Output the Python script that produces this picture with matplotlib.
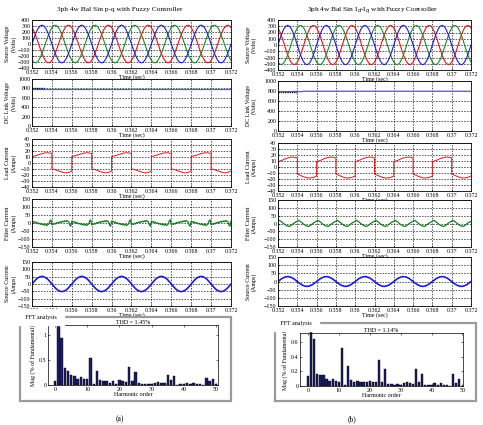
#!/usr/bin/env python3
"""Two-panel shunt filter results: time waveforms plus FFT of source current."""

import matplotlib
matplotlib.use("Agg")
import matplotlib.pyplot as plt
import numpy as np
from matplotlib.patches import Rectangle

plt.rcParams["font.family"] = ["Liberation Serif", "DejaVu Serif"]

W, H = 483, 425
T_START, T_END = 0.352, 0.372
PERIOD = 0.004
N_CYCLES = 5
TIME_TICKS = [0.352, 0.354, 0.356, 0.358, 0.36, 0.362, 0.364, 0.366, 0.368, 0.37, 0.372]

TITLES = ["3ph 4w Bal Sin p-q with Fuzzy Controller",
          r"3ph 4w Bal Sin I$_d$-I$_q$ with Fuzzy Controller"]
THD_TEXT = ["THD = 1.45%", "THD = 1.14%"]
CAPTIONS = ["(a)", "(b)"]

# one cycle of each phase (20 samples per cycle), same supply in both panels
VA_BLUE = [0, 97, 185, 255, 300, 315, 300, 255, 185, 97,
           0, -97, -185, -255, -300, -315, -300, -255, -185, -97]
VA_RED = [273, 211, 128, 33, -66, -158, -234, -288, -313, -308,
          -273, -211, -128, -33, 66, 158, 234, 288, 313, 308]
VA_GREEN = [-273, -308, -313, -288, -234, -158, -66, 33, 128, 211,
            273, 308, 313, 288, 234, 158, 66, -33, -128, -211]

# dc link voltage (time, volts)
DC_A_T = [0.352, 0.372]
DC_A_V = [795, 795]
DC_A_START_T = [0.352, 0.3533]
DC_A_START_V = [798, 798]
DC_B_T = [0.352, 0.3535, 0.354, 0.3543, 0.3546, 0.355, 0.372]
DC_B_V = [788, 788, 794, 784, 794, 795, 795]
DC_B_START_T = [0.352, 0.354]
DC_B_START_V = [790, 790]

# load current, one cycle (ms offsets within cycle, amps); jump at 2 ms and 4 ms
LOAD_OFFS = [0.0, 0.2, 0.4, 0.6, 0.8, 1.0, 1.2, 1.4, 1.6, 1.8, 2.0,
             2.0, 2.2, 2.4, 2.6, 2.8, 3.0, 3.2, 3.4, 3.6, 3.8, 4.0]
LOAD_A = [11, 11.5, 12.5, 13.5, 14.5, 15.5, 16.5, 17, 17, 16.5, 16,
          -10, -10.5, -11.5, -12.5, -14, -15, -16, -16.5, -16, -15, -13.5]
LOAD_B = [9, 10, 11, 12.5, 14, 15, 16, 16.5, 16.5, 16, 15,
          -12, -13, -14.5, -16, -17, -18, -18.5, -18, -17.5, -16.5, -15]

# filter current, one cycle (40 samples)
FILTER_A = [12, 5, 9, 2, 6, -3, 1, -6, -2, -9, -5, -12, -7, -14, -8, -16, -10, -6, 14, 20,
            -12, -5, -9, -2, -6, 3, -1, 6, 2, 9, 5, 12, 7, 14, 8, 16, 10, 6, -14, -20]
FILTER_B = [14, 20, 18, 14, 9, 4, -1, -6, -10, -14, -16, -18, -18, -15, -10, -5, 0, 4, 8, 11,
            14, 20, 18, 14, 9, 4, -1, -6, -10, -14, -16, -18, -18, -15, -10, -5, 0, 4, 8, 11]

# source current, one cycle (20 samples)
SRC_A = [0, 16, 31, 42, 49, 52, 49, 42, 31, 16,
         0, -16, -31, -42, -49, -52, -49, -42, -31, -16]
SRC_B = [0, 9, 18, 24, 28.5, 30, 28.5, 24, 18, 9,
         0, -9, -18, -24, -28.5, -30, -28.5, -24, -18, -9]

HARMONICS = list(range(51))
FFT_A = [0.08, 1.28, 0.95, 0.34, 0.28, 0.21, 0.19, 0.12, 0.16, 0.13,
         0.12, 0.54, 0.02, 0.28, 0.11, 0.09, 0.09, 0.04, 0.08, 0.03,
         0.11, 0.08, 0.07, 0.36, 0.09, 0.26, 0.04, 0.03, 0.02, 0.03,
         0.03, 0.04, 0.07, 0.05, 0.05, 0.21, 0.11, 0.18, 0.01, 0.02,
         0.02, 0.04, 0.02, 0.04, 0.03, 0.02, 0.0, 0.14, 0.09, 0.12, 0.02]
FFT_B = [0.14, 0.83, 0.64, 0.16, 0.15, 0.15, 0.10, 0.07, 0.10, 0.07,
         0.06, 0.51, 0.01, 0.27, 0.08, 0.06, 0.07, 0.05, 0.06, 0.06,
         0.07, 0.05, 0.05, 0.36, 0.05, 0.23, 0.03, 0.03, 0.01, 0.03,
         0.02, 0.04, 0.05, 0.04, 0.03, 0.23, 0.06, 0.16, 0.01, 0.01,
         0.01, 0.04, 0.01, 0.04, 0.02, 0.01, 0.0, 0.16, 0.04, 0.10, 0.0]

FS = 4.3


def px_axes(fig, x0, y0, x1, y1):
    return fig.add_axes([x0 / W, 1 - y1 / H, (x1 - x0) / W, (y1 - y0) / H])


def periodic(cycle_vals):
    vals = np.append(np.tile(np.asarray(cycle_vals, float), N_CYCLES), cycle_vals[0])
    t = T_START + np.arange(len(vals)) * PERIOD / len(cycle_vals)
    return t, vals


def periodic_knots(offs_ms, vals):
    t = np.concatenate([T_START + k * PERIOD + np.asarray(offs_ms) / 1000 for k in range(N_CYCLES)])
    return t, np.tile(np.asarray(vals, float), N_CYCLES)


def style_time_axes(ax, yticks, ylabel, label_x):
    ax.set_xlim(T_START, T_END)
    ax.set_xticks(TIME_TICKS)
    ax.set_xticklabels([f"{t:g}" for t in TIME_TICKS])
    ax.set_ylim(yticks[0], yticks[-1])
    ax.set_yticks(yticks)
    ax.grid(True, color="black", linestyle=(0, (2.5, 2)), linewidth=0.45)
    ax.tick_params(direction="in", length=1.5, width=0.4, labelsize=FS, pad=1.2)
    for s in ax.spines.values():
        s.set_linewidth(0.6)
    ax.set_xlabel("Time (sec)", fontsize=FS, labelpad=0)
    ax.set_ylabel(ylabel, fontsize=FS, linespacing=1.1)
    ax.yaxis.set_label_coords(label_x, 0.5)


fig = plt.figure(figsize=(W / 100, H / 100), dpi=100)

panels = [
    dict(x0=32, x1=231, rows=[(20, 68), (79, 126), (139, 187), (199, 247), (262, 306)],
         label_x=-0.078, dc=(DC_A_T, DC_A_V, DC_A_START_T, DC_A_START_V),
         load=LOAD_A, filt=FILTER_A, src=SRC_A, fft=FFT_A, fft_top=1.2, fft_ticks=[0, 0.5, 1],
         fft_box=(48, 325, 218, 385), fft_xlim=(-2.2, 50.6), frame=(20, 317, 231, 401),
         title_xy=(120, 10), cap_xy=(120, 419)),
    dict(x0=278, x1=471, rows=[(20, 70), (81, 131), (143, 191), (200, 247), (257, 306)],
         label_x=-0.108, dc=(DC_B_T, DC_B_V, DC_B_START_T, DC_B_START_V),
         load=LOAD_B, filt=FILTER_B, src=SRC_B, fft=FFT_B, fft_top=0.72, fft_ticks=[0, 0.2, 0.4, 0.6],
         fft_box=(300, 333, 463, 386), fft_xlim=(-2.6, 50.2), frame=(275, 323, 476, 401),
         title_xy=(373, 11), cap_xy=(352, 419)),
]

for i, p in enumerate(panels):
    axs = [px_axes(fig, p["x0"], r[0], p["x1"], r[1]) for r in p["rows"]]

    ax = axs[0]
    for vals, col in [(VA_RED, "#e8141a"), (VA_GREEN, "#1a8a2a"), (VA_BLUE, "#1c1ce0")]:
        t, y = periodic(vals)
        ax.plot(t, y, color=col, lw=0.8)
    style_time_axes(ax, list(range(-400, 401, 100)), "Source Voltage\n(Volts)", p["label_x"])

    ax = axs[1]
    dt, dv, st, sv = p["dc"]
    ax.plot(dt, dv, color="#5a5ad8", lw=0.9)
    ax.plot(st, sv, color="#101040", lw=1.0, linestyle=(0, (1, 0.6)))
    style_time_axes(ax, list(range(0, 1001, 200)), "DC Link Voltage\n(Volts)", p["label_x"])

    ax = axs[2]
    t, y = periodic_knots(LOAD_OFFS, p["load"])
    ax.plot(t, y, color="#e8141a", lw=0.7)
    style_time_axes(ax, list(range(-40, 41, 10)), "Load Current\n(Amps)", p["label_x"])

    ax = axs[3]
    t, y = periodic(p["filt"])
    ax.plot(t, y, color="#1a7a22", lw=0.9)
    style_time_axes(ax, list(range(-150, 151, 50)), "Filter Current\n(Amps)", p["label_x"])

    ax = axs[4]
    t, y = periodic(p["src"])
    ax.plot(t, y, color="#1c1ce0", lw=1.2)
    style_time_axes(ax, list(range(-150, 151, 50)), "Source Current\n(Amps)", p["label_x"])

    fig.text(p["title_xy"][0] / W, 1 - p["title_xy"][1] / H, TITLES[i],
             ha="center", va="center", fontsize=5.3)

    # FFT group box
    fx0, fy0, fx1, fy1 = p["frame"]
    fig.patches.append(Rectangle((fx0 / W, 1 - fy1 / H), (fx1 - fx0) / W, (fy1 - fy0) / H,
                                 transform=fig.transFigure, fill=False,
                                 edgecolor="#9a9a9a", lw=1.6))
    fig.text((fx0 + 4) / W, 1 - fy0 / H, " FFT analysis ", ha="left", va="center",
             fontsize=FS, backgroundcolor="white")

    bx0, by0, bx1, by1 = p["fft_box"]
    fax = px_axes(fig, bx0, by0, bx1, by1)
    fax.bar(HARMONICS, p["fft"], width=0.75, color="#1d1d66", edgecolor="black",
            linewidth=0.3, clip_on=False)
    fax.set_xlim(*p["fft_xlim"])
    fax.set_ylim(0, p["fft_top"])
    fax.set_xticks([0, 10, 20, 30, 40, 50])
    fax.set_yticks(p["fft_ticks"])
    fax.set_yticklabels([f"{v:g}" for v in p["fft_ticks"]])
    fax.tick_params(direction="in", length=1.5, width=0.4, labelsize=FS, pad=1.2,
                    top=True, right=True)
    for s in fax.spines.values():
        s.set_linewidth(0.5)
    fax.set_xlabel("Harmonic order", fontsize=FS, labelpad=0)
    fax.set_ylabel("Mag (% of Fundamental)", fontsize=FS, labelpad=2)
    fax.set_title(THD_TEXT[i], fontsize=FS, pad=1)

    fig.text(p["cap_xy"][0] / W, 1 - p["cap_xy"][1] / H, CAPTIONS[i],
             ha="center", va="center", fontsize=5.5)

fig.savefig("out.png", dpi=100)
